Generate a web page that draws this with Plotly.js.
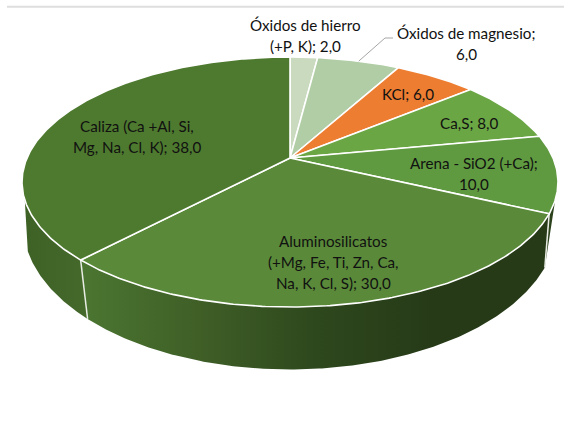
<!DOCTYPE html>
<html><head><meta charset="utf-8">
<script src="https://cdn.plot.ly/plotly-3.0.1.min.js"></script>
<style>html,body{margin:0;padding:0;background:#fff}#c{width:564px;height:421px}</style>
</head><body><div id="c"></div>
<script>
const categories = ["Óxidos de hierro (+P, K)","Óxidos de magnesio","KCl","Ca,S","Arena - SiO2 (+Ca)","Aluminosilicatos (+Mg, Fe, Ti, Zn, Ca, Na, K, Cl, S)","Caliza (Ca +Al, Si, Mg, Na, Cl, K)"];
const values = [2,6,6,8,10,30,38];
const labelLines = [["Óxidos de hierro","(+P, K); "],["Óxidos de magnesio;",""],["KCl; "],["Ca,S; "],["Arena - SiO2 (+Ca);",""],["Aluminosilicatos","(+Mg, Fe, Ti, Zn, Ca,","Na, K, Cl, S); "],["Caliza (Ca +Al, Si,","Mg, Na, Cl, K); "]];
const sliceColors = ["#c9dabf","#b0cda5","#ed7d31","#6ba644","#5f9a40","#5a8a39","#4e7a2f"];
const labelX = [305,466,408,469,474,333,137];
const labelY = [25,33,94,123,163,241,126];
const wallScales = {4:["#2c441c","#2a401b"],5:["#4b7631","#3f5f27","#2e481d","#263a18","#263a18"],6:["#3e6126","#45692b"]};

// Perspective disc: fraction of the pie -> plot position
const hub=[290,158], topA=263, topB=120.4, topP=0.192, botA=264, botB=142, botP=0.147, botY=203;
const top_=t=>{const u=Math.sin(t),v=Math.cos(t),d=1+topP*v;return [hub[0]+topA*u/d,hub[1]-topB*v/d]};
const bot_=t=>{const u=Math.sin(t),v=Math.cos(t),d=1+botP*v;return [hub[0]+botA*u/d,botY-botB*v/d]};
const total=values.reduce((a,b)=>a+b,0);
const ang=f=>f/total*2*Math.PI;
const wallRight=109*Math.PI/180, wallLeft=251*Math.PI/180;

const traces=[], annotations=[];
function arc(fn,a,b){const n=Math.max(2,Math.ceil(Math.abs(b-a)/0.01)),pts=[];for(let i=0;i<=n;i++)pts.push(fn(a+(b-a)*i/n));return pts}
function poly(pts,extra){traces.push(Object.assign({type:'scatter',mode:'lines',x:pts.map(p=>p[0]),y:pts.map(p=>p[1]),hoverinfo:'skip',showlegend:false},extra))}
let cum=0; const starts=values.map(v=>{const s=cum;cum+=v;return s});
// walls
values.forEach((v,i)=>{
  if(!wallScales[i])return;
  let a=ang(starts[i]),b=ang(starts[i]+v);
  const clippedStart=a<wallRight;
  a=Math.max(a,wallRight); b=Math.min(b,wallLeft);
  // the far-right wall narrows to a point on the lower rim
  const lower=clippedStart?[bot_(b)]:arc(bot_,b,a);
  const pts=arc(top_,a,b).concat(lower);
  pts.push(pts[0]);
  const xs=pts.map(p=>p[0]);
  const c=wallScales[i];
  poly(pts,{fill:'toself',line:{width:0,color:'rgba(0,0,0,0)'},fillgradient:{type:'horizontal',start:Math.min(...xs),stop:Math.max(...xs),colorscale:c.map((k,j)=>[j/(c.length-1),k])}});
});
// white edges on the wall
[starts[5],starts[6]].forEach(s=>{const t=ang(s);poly([top_(t),bot_(t)],{line:{color:'#e8ece4',width:1.5}})});
// top slices
values.forEach((v,i)=>{
  const a=ang(starts[i]),b=ang(starts[i]+v);
  const pts=[hub].concat(arc(top_,a,b));pts.push(hub);
  poly(pts,{fill:'toself',fillcolor:sliceColors[i],line:{color:'#ffffff',width:1.6}});
});
// leader line
const lead=top_(ang(starts[1]+values[1]/2));
poly([lead,[385,38],[393,38]],{line:{color:'#a6a6a6',width:1}});
// labels
const lineGap=21;
values.forEach((v,i)=>{
  const vs=v.toFixed(1).replace('.',',');
  labelLines[i].forEach((l,j)=>{
    const last=j===labelLines[i].length-1;
    annotations.push({x:labelX[i],y:labelY[i]+j*lineGap,xref:'x',yref:'y',text:last?l+vs:l,showarrow:false,xanchor:'center',yanchor:'middle',font:{family:'Lato',size:15.2,color:'#111111'}});
  });
});
Plotly.newPlot('c',traces,{width:564,height:421,margin:{l:0,r:0,t:0,b:0},paper_bgcolor:'#fff',plot_bgcolor:'#fff',showlegend:false,
 shapes:[{type:'line',xref:'x',yref:'y',x0:7,x1:564,y0:6.8,y1:6.8,line:{color:'#dedede',width:2}}],
 xaxis:{range:[0,564],visible:false,fixedrange:true},yaxis:{range:[421,0],visible:false,fixedrange:true},annotations},{displayModeBar:false,staticPlot:true});
</script></body></html>
